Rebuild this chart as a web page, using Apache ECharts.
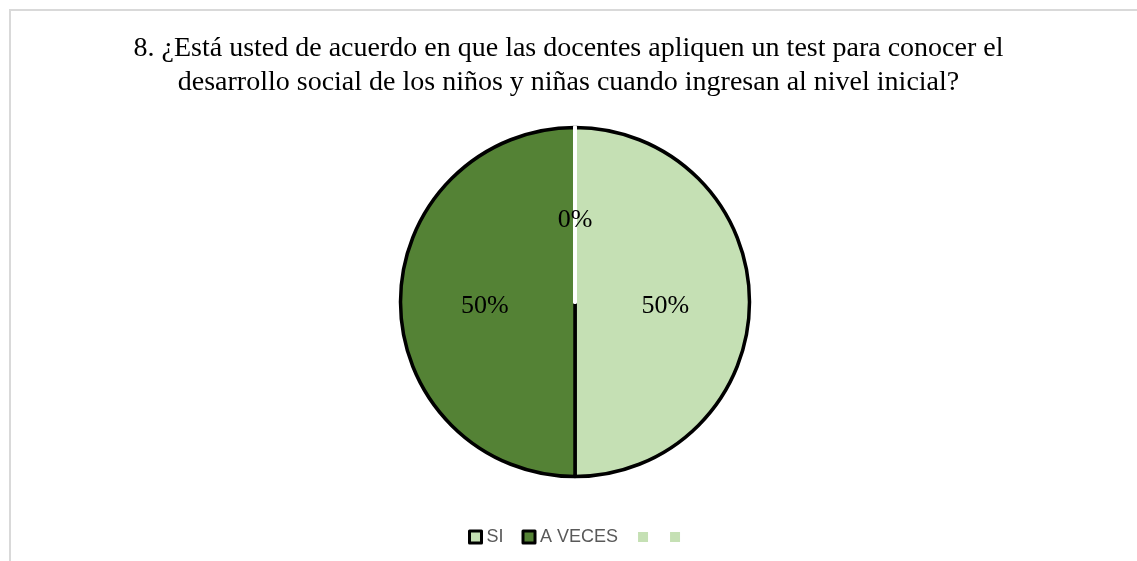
<!DOCTYPE html>
<html>
<head>
<meta charset="utf-8">
<script src="https://cdn.jsdelivr.net/npm/echarts@6/dist/echarts.min.js"></script>
<style>
html,body{margin:0;padding:0;background:#fff;}
#chart{width:1137px;height:561px;}
</style>
</head>
<body>
<div id="chart"></div>
<script>
const titleLines = [
  '8. ¿Está usted de acuerdo en que las docentes apliquen un test para conocer el',
  'desarrollo social de los niños y niñas cuando ingresan al nivel inicial?'
];
const categories = ['SI', 'A VECES', ' ', '  '];
const values = [50, 50, 0, 0];
const colors = ['#C5E0B4', '#548235', '#C5E0B4', '#C5E0B4'];
const hasBorder = [true, true, false, false];
const showLabel = [true, true, true, false];

const chart = echarts.init(document.getElementById('chart'));
const total = values.reduce((a, b) => a + b, 0);

const data = categories.map((name, i) => ({
  name: name,
  value: values[i],
  itemStyle: hasBorder[i]
    ? { color: colors[i], borderColor: '#000', borderWidth: 3.5 }
    : { color: colors[i], borderColor: '#fff', borderWidth: 4 },
  label: { show: showLabel[i], offset: hasBorder[i] ? [0, 4] : [0, 8] }
}));

const legendData = categories.map((name, i) => ({
  name: name,
  itemStyle: hasBorder[i]
    ? { color: colors[i], borderColor: '#000', borderWidth: 3 }
    : { color: colors[i], borderColor: '#fff', borderWidth: 2 }
}));

chart.setOption({
  animation: false,
  backgroundColor: '#fff',
  graphic: [
    { type: 'line', shape: { x1: 9, y1: 10, x2: 1137, y2: 10 }, style: { stroke: '#d9d9d9', lineWidth: 2 } },
    { type: 'line', shape: { x1: 10, y1: 9, x2: 10, y2: 561 }, style: { stroke: '#d9d9d9', lineWidth: 2 } }
  ],
  title: {
    text: titleLines.join('\n'),
    left: 'center',
    top: 27,
    textStyle: {
      fontFamily: 'Liberation Serif',
      fontSize: 28,
      fontWeight: 'normal',
      color: '#000',
      lineHeight: 34
    }
  },
  legend: {
    data: legendData,
    left: 463,
    top: 523,
    icon: 'rect',
    itemWidth: 12,
    itemHeight: 12,
    itemGap: 18,
    formatter: name => name.trim() ? name : '',
    textStyle: {
      fontFamily: 'Liberation Sans',
      fontSize: 18,
      color: '#595959'
    }
  },
  series: [{
    type: 'pie',
    center: [575, 302],
    radius: 174.5,
    startAngle: 90,
    clockwise: true,
    avoidLabelOverlap: false,
    data: data,
    label: {
      position: 'inside',
      fontFamily: 'Liberation Serif',
      fontSize: 26,
      color: '#000',
      formatter: p => Math.round(p.value / total * 100) + '%'
    },
    labelLine: { show: false },
    emphasis: { disabled: true }
  }]
});
</script>
</body>
</html>
